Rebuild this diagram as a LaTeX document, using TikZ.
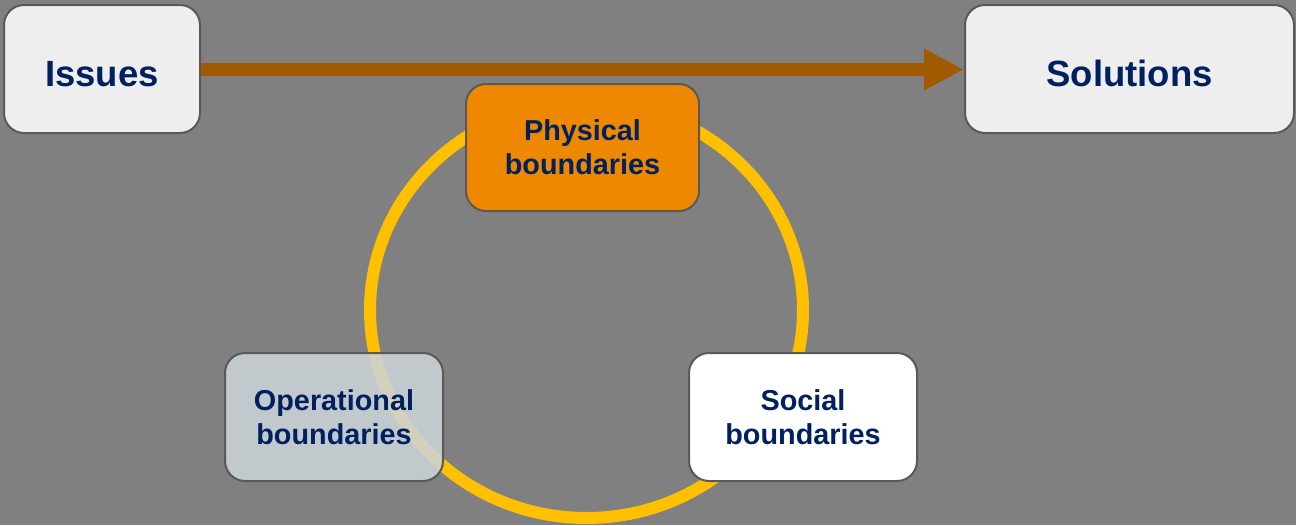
\documentclass[tikz,border=0pt]{standalone}
\usepackage{fontspec}
\setmainfont{Liberation Sans}
\usetikzlibrary{arrows.meta}
\definecolor{bgrey}{RGB}{128,128,128}
\definecolor{edgegrey}{RGB}{89,89,89}
\definecolor{navytext}{RGB}{0,32,96}
\definecolor{paper}{RGB}{238,238,238}
\definecolor{orangefill}{RGB}{238,136,0}
\definecolor{slatefill}{RGB}{203,212,216}
\definecolor{ringyellow}{RGB}{255,192,0}
\definecolor{arrowbrown}{RGB}{160,90,0}
\begin{document}
\begin{tikzpicture}[x=1pt,y=-1pt,
  card/.style={draw=edgegrey, line width=2pt, rounded corners=20pt,
    align=center, text=navytext, inner sep=0pt,
    font=\bfseries\fontsize{28.8}{34}\selectfont},
  bigcard/.style={card, fill=paper, text height=34pt, text depth=0pt,
    font=\bfseries\fontsize{36.5}{42}\selectfont}]
  % background and picture frame
  \fill[bgrey] (0,0) rectangle (1296,525);
  \useasboundingbox (0,0) rectangle (1296,525);

  % the ring linking the three kinds of boundaries
  \draw[ringyellow, line width=12pt] (586.5,310) ellipse [x radius=216.5, y radius=208];

  % end points of the process
  \node[bigcard, minimum width=196pt, minimum height=128pt] (issues) at (102,69) {Issues};
  \node[bigcard, minimum width=329pt, minimum height=128pt] (solutions) at (1129.5,69) {Solutions};

  % the three boundaries
  \node[card, fill=orangefill, minimum width=233pt, minimum height=127pt] (physical) at (582.5,147.5)
    {Physical\\boundaries};
  \node[card, fill=slatefill, fill opacity=0.87, text opacity=1, draw opacity=1,
        minimum width=218pt, minimum height=128pt] (operational) at (334,417)
    {Operational\\boundaries};
  \node[card, fill=white, minimum width=228pt, minimum height=128pt] (social) at (803,417)
    {Social\\boundaries};

  % arrow from issues to solutions
  \draw[arrowbrown, line width=13pt, -{Triangle[length=40pt, width=39pt]}]
    (issues.east |- 0,69.5) -- (solutions.west |- 0,69.5);
\end{tikzpicture}
\end{document}
